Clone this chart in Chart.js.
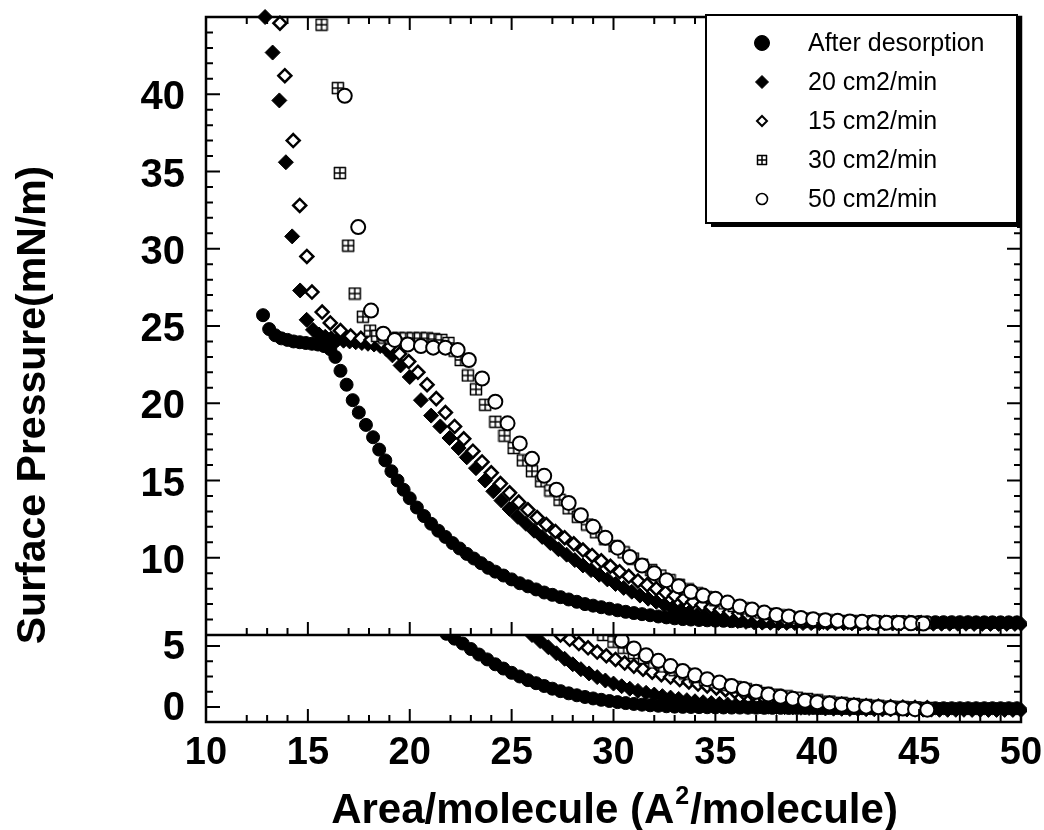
<!DOCTYPE html>
<html>
<head>
<meta charset="utf-8">
<script src="https://cdn.jsdelivr.net/npm/chart.js@4.4.1/dist/chart.umd.min.js"></script>
<style>
  html, body { margin: 0; padding: 0; background: #fff; }
  canvas { display: block; }
</style>
</head>
<body>
<canvas id="grafica" width="1044" height="830"></canvas>
<script>
const seriesNames = ['After desorption', '20 cm2/min', '15 cm2/min', '30 cm2/min', '50 cm2/min'];
const yTitle = 'Surface Pressure(mN/m)';
const xTitleParts = ['Area/molecule (A', '2', '/molecule)'];

const areaTicks = [10, 15, 20, 25, 30, 35, 40, 45, 50];
const areaMinorTicks = [12, 13, 14, 17, 18, 19, 22, 23, 24, 27, 28, 29, 32, 33, 34, 37, 38, 39, 42, 43, 44, 47, 48, 49];
const upperTicks = [10, 15, 20, 25, 30, 35, 40];
const upperMinorTicks = [6, 7, 8, 9, 11, 12, 13, 14, 16, 17, 18, 19, 21, 22, 23, 24, 26, 27, 28, 29, 31, 32, 33, 34, 36, 37, 38, 39, 41, 42, 43, 44];
const lowerTicks = [0, 5];
const lowerMinorTicks = [1.25, 2.5, 3.75];

// upper panel, [area, pressure]
const afterDesorptionUpper = [[12.8,25.7],[13.1,24.8],[13.4,24.4],[13.7,24.2],[14.0,24.1],[14.3,24.0],[14.6,23.95],[14.9,23.9],[15.2,23.85],[15.5,23.8],[15.8,23.7],[16.1,23.5],[16.35,23.0],[16.6,22.1],[16.9,21.2],[17.2,20.2],[17.5,19.4],[17.85,18.6],[18.2,17.8],[18.5,17.0],[18.8,16.3],[19.1,15.6],[19.4,15.0],[19.7,14.4],[20.0,13.85],[20.35,13.25],[20.7,12.7],[21.05,12.2],[21.4,11.75],[21.75,11.35],[22.1,10.95],[22.45,10.6],[22.8,10.25],[23.15,9.95],[23.5,9.65],[23.85,9.35],[24.2,9.1],[24.6,8.85],[25.0,8.6],[25.4,8.35],[25.8,8.15],[26.2,7.95],[26.6,7.75],[27.0,7.6],[27.4,7.45],[27.8,7.3],[28.2,7.15],[28.6,7.0],[29.0,6.9],[29.4,6.8],[29.8,6.7],[30.2,6.6],[30.6,6.5],[31.0,6.42],[31.4,6.35],[31.8,6.28],[32.2,6.2],[32.6,6.14],[33.0,6.08],[33.4,6.03],[33.8,6.0],[34.2,5.97],[34.6,5.95],[35.0,5.93],[35.4,5.92],[35.8,5.9],[36.2,5.9],[36.6,5.89],[37.0,5.89],[37.4,5.88],[37.8,5.88],[38.2,5.88],[38.6,5.87],[39.0,5.87],[39.4,5.87],[39.8,5.86],[40.2,5.86],[40.6,5.86],[41.0,5.86],[41.4,5.85],[41.8,5.85],[42.2,5.85],[42.6,5.85],[43.0,5.85],[43.4,5.84],[43.8,5.84],[44.2,5.84],[44.6,5.84],[45.0,5.84],[45.4,5.83],[45.8,5.83],[46.2,5.83],[46.6,5.83],[47.0,5.83],[47.4,5.83],[47.8,5.82],[48.2,5.82],[48.6,5.82],[49.0,5.82],[49.4,5.82],[49.8,5.82]];
const rate20Upper = [[12.9,45.0],[13.27,42.7],[13.6,39.6],[13.92,35.6],[14.23,30.8],[14.62,27.3],[14.94,25.4],[15.25,24.75],[15.55,24.45],[15.85,24.3],[16.15,24.2],[16.45,24.1],[16.75,24.05],[17.05,24.0],[17.35,23.95],[17.65,23.9],[17.95,23.85],[18.25,23.8],[18.55,23.7],[18.85,23.5],[19.15,23.1],[19.55,22.45],[20.0,21.7],[20.55,20.2],[21.05,19.2],[21.5,18.5],[21.95,17.75],[22.4,17.1],[22.8,16.5],[23.25,15.8],[23.7,15.0],[24.1,14.3],[24.5,13.7],[24.9,13.15],[25.3,12.65],[25.7,12.2],[26.1,11.75],[26.5,11.35],[26.9,10.95],[27.3,10.55],[27.7,10.2],[28.1,9.85],[28.5,9.5],[28.9,9.2],[29.3,8.9],[29.7,8.6],[30.1,8.3],[30.5,8.05],[30.9,7.8],[31.3,7.55],[31.7,7.35],[32.1,7.15],[32.5,6.95],[32.9,6.75],[33.3,6.6],[33.7,6.45],[34.1,6.3],[34.5,6.2],[34.9,6.1],[35.3,6.0],[35.7,5.95],[36.1,5.9],[36.5,5.85],[36.9,5.82],[37.3,5.8],[37.7,5.79],[38.1,5.78],[38.5,5.78],[38.9,5.77],[39.3,5.77],[39.7,5.77],[40.1,5.76],[40.5,5.76],[40.9,5.76],[41.3,5.76],[41.7,5.75],[42.1,5.75],[42.5,5.75],[42.9,5.75],[43.3,5.75],[43.7,5.74],[44.1,5.74],[44.5,5.74],[44.9,5.74],[45.3,5.74],[45.7,5.73],[46.1,5.73],[46.5,5.73],[46.9,5.73],[47.3,5.73],[47.7,5.72],[48.1,5.72],[48.5,5.72],[48.9,5.72],[49.3,5.72],[49.7,5.72],[50.0,5.72]];
const rate15Upper = [[13.63,44.6],[13.87,41.2],[14.28,37.0],[14.6,32.8],[14.95,29.5],[15.2,27.2],[15.7,25.9],[16.1,25.2],[16.6,24.7],[17.1,24.35],[17.6,24.2],[18.1,24.1],[18.6,23.95],[19.05,23.7],[19.5,23.2],[19.95,22.7],[20.4,22.0],[20.85,21.2],[21.3,20.3],[21.75,19.4],[22.2,18.5],[22.65,17.7],[23.1,16.9],[23.55,16.2],[24.0,15.5],[24.45,14.8],[24.9,14.2],[25.35,13.6],[25.8,13.1],[26.25,12.6],[26.7,12.15],[27.15,11.7],[27.6,11.3],[28.05,10.9],[28.5,10.5],[28.95,10.15],[29.4,9.8],[29.85,9.45],[30.3,9.1],[30.75,8.8],[31.2,8.5],[31.65,8.25],[32.1,8.0],[32.55,7.75],[33.0,7.55],[33.45,7.35],[33.9,7.15],[34.35,6.95],[34.8,6.8],[35.25,6.65],[35.7,6.5],[36.15,6.4],[36.6,6.3],[37.05,6.2],[37.5,6.12],[37.95,6.05],[38.4,6.0],[38.85,5.95],[39.3,5.9],[39.75,5.88],[40.3,5.86],[40.9,5.85],[41.5,5.84],[42.1,5.83],[42.7,5.82],[43.3,5.81],[43.9,5.8],[44.5,5.8],[45.1,5.79]];
const rate30Upper = [[15.67,44.5],[16.47,40.4],[16.57,34.9],[16.98,30.2],[17.3,27.1],[17.7,25.6],[18.05,24.7],[18.4,24.35],[18.75,24.25],[19.1,24.2],[19.45,24.2],[19.8,24.2],[20.15,24.2],[20.5,24.2],[20.85,24.2],[21.2,24.15],[21.55,24.1],[21.9,23.9],[22.2,23.4],[22.5,22.8],[22.85,21.8],[23.25,20.9],[23.7,19.9],[24.2,18.8],[24.65,17.9],[25.1,17.1],[25.55,16.3],[26.0,15.6],[26.45,14.95],[26.9,14.35],[27.35,13.75],[27.8,13.2],[28.25,12.65],[28.7,12.15],[29.15,11.65],[29.6,11.2],[30.05,10.75],[30.5,10.35],[30.95,9.95],[31.4,9.55],[31.85,9.2],[32.3,8.85],[32.75,8.55],[33.2,8.25],[33.65,7.95],[34.1,7.7],[34.55,7.45],[35.0,7.25],[35.45,7.05],[35.9,6.88],[36.35,6.72],[36.8,6.58],[37.25,6.46],[37.7,6.36],[38.15,6.27],[38.6,6.19],[39.05,6.12],[39.5,6.06],[39.95,6.0],[40.5,5.95],[41.1,5.9],[41.7,5.88],[42.3,5.86],[42.9,5.85],[43.5,5.84],[44.1,5.83],[44.7,5.82],[45.3,5.8]];
const rate50Upper = [[16.81,39.9],[17.47,31.4],[18.1,26.0],[18.7,24.5],[19.26,24.1],[19.9,23.8],[20.55,23.7],[21.15,23.6],[21.75,23.6],[22.35,23.45],[22.9,22.8],[23.55,21.6],[24.2,20.1],[24.8,18.7],[25.4,17.4],[26.0,16.4],[26.6,15.3],[27.2,14.4],[27.8,13.55],[28.4,12.75],[29.0,12.0],[29.6,11.3],[30.2,10.65],[30.8,10.05],[31.4,9.5],[32.0,9.0],[32.6,8.55],[33.2,8.15],[33.8,7.8],[34.4,7.55],[35.0,7.35],[35.6,7.1],[36.2,6.85],[36.8,6.65],[37.4,6.45],[38.0,6.3],[38.6,6.2],[39.2,6.1],[39.8,6.02],[40.4,5.96],[41.0,5.92],[41.6,5.88],[42.2,5.85],[42.8,5.82],[43.4,5.8],[44.0,5.78],[44.6,5.76],[45.2,5.74]];

// lower panel, [area, pressure]
const afterDesorptionLower = [[21.8,6.0],[22.2,5.6],[22.6,5.2],[23.0,4.75],[23.4,4.3],[23.8,3.9],[24.2,3.5],[24.6,3.15],[25.0,2.8],[25.4,2.5],[25.8,2.2],[26.2,1.95],[26.6,1.72],[27.0,1.5],[27.4,1.3],[27.8,1.12],[28.2,0.96],[28.6,0.82],[29.0,0.7],[29.4,0.59],[29.8,0.49],[30.2,0.4],[30.6,0.32],[31.0,0.25],[31.4,0.19],[31.8,0.14],[32.2,0.1],[32.6,0.06],[33.0,0.03],[33.4,0.01],[33.8,0.0],[34.2,-0.01],[34.6,-0.02],[35.0,-0.03],[35.4,-0.04],[35.8,-0.05],[36.2,-0.05],[36.6,-0.06],[37.0,-0.06],[37.4,-0.07],[37.8,-0.07],[38.2,-0.07],[38.6,-0.08],[39.0,-0.08],[39.4,-0.08],[39.8,-0.08],[40.2,-0.09],[40.6,-0.09],[41.0,-0.09],[41.4,-0.09],[41.8,-0.09],[42.2,-0.1],[42.6,-0.1],[43.0,-0.1],[43.4,-0.1],[43.8,-0.1],[44.2,-0.1],[44.6,-0.1],[45.0,-0.1],[45.4,-0.1],[45.8,-0.1],[46.2,-0.1],[46.6,-0.1],[47.0,-0.1],[47.4,-0.1],[47.8,-0.1],[48.2,-0.1],[48.6,-0.1],[49.0,-0.1],[49.4,-0.1],[49.8,-0.1]];
const rate20Lower = [[26.0,5.9],[26.4,5.4],[26.8,4.9],[27.2,4.4],[27.6,3.95],[28.0,3.5],[28.4,3.1],[28.8,2.75],[29.2,2.45],[29.6,2.17],[30.0,1.92],[30.4,1.7],[30.8,1.5],[31.2,1.32],[31.6,1.16],[32.0,1.02],[32.4,0.89],[32.8,0.77],[33.2,0.66],[33.6,0.56],[34.0,0.47],[34.4,0.39],[34.8,0.32],[35.2,0.26],[35.6,0.2],[36.0,0.15],[36.4,0.11],[36.8,0.07],[37.2,0.04],[37.6,0.02],[38.0,0.0],[38.4,-0.02],[38.8,-0.04],[39.2,-0.06],[39.6,-0.08],[40.0,-0.1],[40.4,-0.12],[40.8,-0.14],[41.2,-0.15],[41.6,-0.16],[42.0,-0.17],[42.4,-0.18],[42.8,-0.19],[43.2,-0.2],[43.6,-0.2],[44.0,-0.21],[44.4,-0.21],[44.8,-0.22],[45.2,-0.22],[45.6,-0.22],[46.0,-0.23],[46.4,-0.23],[46.8,-0.23],[47.2,-0.23],[47.6,-0.24],[48.0,-0.24],[48.4,-0.24],[48.8,-0.24],[49.2,-0.24],[49.6,-0.24],[50.0,-0.24]];
const rate15Lower = [[27.4,5.9],[27.85,5.55],[28.3,5.2],[28.75,4.85],[29.2,4.5],[29.65,4.2],[30.1,3.9],[30.55,3.6],[31.0,3.35],[31.45,3.1],[31.9,2.85],[32.35,2.65],[32.8,2.45],[33.25,2.25],[33.7,2.05],[34.15,1.88],[34.6,1.72],[35.05,1.56],[35.5,1.42],[35.95,1.28],[36.4,1.15],[36.85,1.03],[37.3,0.92],[37.75,0.82],[38.2,0.72],[38.65,0.63],[39.1,0.55],[39.55,0.47],[40.0,0.4],[40.6,0.31],[41.2,0.23],[41.8,0.16],[42.4,0.1],[43.0,0.05],[43.6,0.01],[44.2,-0.02],[44.8,-0.05],[45.4,-0.07]];
const rate30Lower = [[29.5,5.9],[30.0,5.35],[30.5,4.85],[31.0,4.42],[31.5,4.02],[32.0,3.65],[32.5,3.32],[33.0,3.02],[33.5,2.74],[34.0,2.48],[34.5,2.24],[35.0,2.02],[35.5,1.82],[36.0,1.63],[36.5,1.46],[37.0,1.3],[37.5,1.15],[38.0,1.01],[38.5,0.88],[39.0,0.76],[39.5,0.65],[40.0,0.55],[40.6,0.44],[41.2,0.34],[41.8,0.25],[42.4,0.17],[43.0,0.1],[43.6,0.04],[44.2,-0.01],[44.8,-0.05],[45.4,-0.08]];
const rate50Lower = [[30.4,5.45],[31.0,4.8],[31.6,4.25],[32.2,3.78],[32.8,3.35],[33.4,2.95],[34.0,2.6],[34.6,2.28],[35.2,2.0],[35.8,1.72],[36.4,1.47],[37.0,1.24],[37.6,1.03],[38.2,0.84],[38.8,0.67],[39.4,0.52],[40.0,0.39],[40.6,0.28],[41.2,0.18],[41.8,0.1],[42.4,0.03],[43.0,-0.03],[43.6,-0.08],[44.2,-0.13],[44.8,-0.18],[45.4,-0.22]];

const fontFamily = '"Liberation Sans", Arial, Helvetica, sans-serif';

// hatched square marker for the 30 cm2/min series
function makeHatchMark(size) {
  const c = document.createElement('canvas');
  c.width = size;
  c.height = size;
  const g = c.getContext('2d');
  g.fillStyle = '#fff';
  g.fillRect(1, 1, size - 2, size - 2);
  g.strokeStyle = '#000';
  g.lineWidth = 1.5;
  g.beginPath();
  g.moveTo(1, 1.5); g.lineTo(size - 1, 1.5);
  g.moveTo(1, size / 2); g.lineTo(size - 1, size / 2);
  g.moveTo(1, size - 1.5); g.lineTo(size - 1, size - 1.5);
  g.moveTo(1.5, 1); g.lineTo(1.5, size - 1);
  g.moveTo(size / 2, 1); g.lineTo(size / 2, size - 1);
  g.moveTo(size - 1.5, 1); g.lineTo(size - 1.5, size - 1);
  g.stroke();
  return c;
}

const hatchMark = makeHatchMark(14);
const hatchLegend = makeHatchMark(12);

const markers = [
  { style: 'circle', radius: 6.5, fill: '#000', width: 1 },
  { style: 'rectRot', radius: 7.5, fill: '#000', width: 1 },
  { style: 'rectRot', radius: 6.5, fill: '#fff', width: 2.5 },
  { style: hatchMark, radius: 7, fill: '#fff', width: 1 },
  { style: 'circle', radius: 7, fill: '#fff', width: 2 }
];
const legendMarkers = [
  { style: 'circle', radius: 7.5, fill: '#000', width: 1 },
  { style: 'rectRot', radius: 6.5, fill: '#000', width: 1 },
  { style: 'rectRot', radius: 5, fill: '#fff', width: 2 },
  { style: hatchLegend, radius: 6, fill: '#fff', width: 1 },
  { style: 'circle', radius: 5.5, fill: '#fff', width: 1.6 }
];

function makeDataset(i, points, axis) {
  const m = markers[i];
  return {
    label: seriesNames[i],
    data: points.map(p => ({ x: p[0], y: p[1] })),
    yAxisID: axis,
    showLine: false,
    pointStyle: m.style,
    pointRadius: m.radius,
    pointBackgroundColor: m.fill,
    pointBorderColor: '#000',
    pointBorderWidth: m.width,
    order: 5 - i,
    clip: false
  };
}

const datasets = [
  makeDataset(0, afterDesorptionUpper, 'yUp'),
  makeDataset(1, rate20Upper, 'yUp'),
  makeDataset(2, rate15Upper, 'yUp'),
  makeDataset(3, rate30Upper, 'yUp'),
  makeDataset(4, rate50Upper, 'yUp'),
  makeDataset(0, afterDesorptionLower, 'yLow'),
  makeDataset(1, rate20Lower, 'yLow'),
  makeDataset(2, rate15Lower, 'yLow'),
  makeDataset(3, rate30Lower, 'yLow'),
  makeDataset(4, rate50Lower, 'yLow')
];

// inside ticks, frame, titles and legend
const decor = {
  id: 'decor',
  beforeDatasetDraw(chart, args) {
    const { ctx, chartArea } = chart;
    const ys = chart.scales[args.meta.yAxisID];
    const top = ys.id === 'yUp' ? ys.top - 10 : ys.top;
    ctx.save();
    ctx.beginPath();
    ctx.rect(chartArea.left, top, chartArea.right - chartArea.left + 6, ys.bottom - top);
    ctx.clip();
  },
  afterDatasetDraw(chart) {
    chart.ctx.restore();
  },
  afterDraw(chart) {
    const ctx = chart.ctx;
    const xs = chart.scales.x, up = chart.scales.yUp, low = chart.scales.yLow;
    const L = xs.left, R = xs.right, T = up.top, M = up.bottom, B = low.bottom;
    ctx.save();
    ctx.strokeStyle = '#000';
    ctx.lineWidth = 2;
    ctx.beginPath();
    const xTick = (v, len) => {
      const x = xs.getPixelForValue(v);
      ctx.moveTo(x, T); ctx.lineTo(x, T + len);
      ctx.moveTo(x, M); ctx.lineTo(x, M - len);
      ctx.moveTo(x, B); ctx.lineTo(x, B - len);
    };
    areaTicks.slice(1, -1).forEach(v => xTick(v, 13));
    areaMinorTicks.forEach(v => xTick(v, 7));
    const yTick = (scale, v, len) => {
      const y = scale.getPixelForValue(v);
      ctx.moveTo(L, y); ctx.lineTo(L + len, y);
      ctx.moveTo(R, y); ctx.lineTo(R - len, y);
    };
    upperTicks.forEach(v => yTick(up, v, 14));
    upperMinorTicks.forEach(v => yTick(up, v, 7));
    lowerTicks.forEach(v => yTick(low, v, 14));
    lowerMinorTicks.forEach(v => yTick(low, v, 7));
    ctx.stroke();

    ctx.lineWidth = 2.5;
    ctx.strokeRect(L, T, R - L, B - T);
    ctx.beginPath();
    ctx.moveTo(L, M); ctx.lineTo(R, M);
    ctx.stroke();

    // axis titles
    ctx.fillStyle = '#000';
    ctx.font = 'bold 41px ' + fontFamily;
    ctx.textAlign = 'center';
    ctx.textBaseline = 'middle';
    ctx.save();
    ctx.translate(34, 405);
    ctx.rotate(-Math.PI / 2);
    ctx.fillText(yTitle, 0, 0);
    ctx.restore();

    const mainFont = 'bold 42px ' + fontFamily;
    const supFont = 'bold 25px ' + fontFamily;
    ctx.textAlign = 'left';
    ctx.textBaseline = 'alphabetic';
    ctx.font = mainFont;
    const w0 = ctx.measureText(xTitleParts[0]).width;
    const w2 = ctx.measureText(xTitleParts[2]).width;
    ctx.font = supFont;
    const w1 = ctx.measureText(xTitleParts[1]).width;
    let tx = (L + R) / 2 - (w0 + w1 + w2) / 2;
    const base = 823;
    ctx.font = mainFont;
    ctx.fillText(xTitleParts[0], tx, base);
    ctx.font = supFont;
    ctx.fillText(xTitleParts[1], tx + w0 + 1, base - 19);
    ctx.font = mainFont;
    ctx.fillText(xTitleParts[2], tx + w0 + w1 + 2, base);

    // legend box with shadow
    const bx = 706, by = 15, bw = 311, bh = 208;
    ctx.fillStyle = '#fff';
    ctx.fillRect(bx, by, bw, bh);
    ctx.lineWidth = 2;
    ctx.strokeRect(bx, by, bw, bh);
    ctx.fillStyle = '#000';
    ctx.fillRect(bx + bw, by + 3, 5, bh + 2);
    ctx.fillRect(bx + 5, by + bh, bw, 4);

    ctx.font = '25px ' + fontFamily;
    ctx.textBaseline = 'middle';
    ctx.textAlign = 'left';
    seriesNames.forEach((name, i) => {
      const y = 43 + i * 39;
      const m = legendMarkers[i];
      ctx.fillStyle = m.fill;
      ctx.strokeStyle = '#000';
      ctx.lineWidth = m.width;
      Chart.helpers.drawPoint(ctx, { pointStyle: m.style, radius: m.radius, rotation: 0, borderWidth: m.width }, 762, y);
      ctx.fillStyle = '#000';
      ctx.fillText(name, 808, y + 1);
    });
    ctx.restore();
  }
};

const xTickFont = { family: fontFamily, size: 38, weight: 'bold' };
const yTickFont = { family: fontFamily, size: 40, weight: 'bold' };

const chart = new Chart(document.getElementById('grafica').getContext('2d'), {
  type: 'scatter',
  data: { datasets: datasets },
  options: {
    responsive: false,
    devicePixelRatio: 1,
    animation: false,
    events: [],
    layout: { padding: { top: 17, right: 23, bottom: 0, left: 0 } },
    plugins: { legend: { display: false }, tooltip: { enabled: false } },
    scales: {
      x: {
        type: 'linear', min: 10, max: 50,
        grid: { display: false, drawTicks: false },
        border: { display: false },
        ticks: { font: xTickFont, color: '#000', padding: 9, maxRotation: 0, autoSkip: false },
        afterBuildTicks: s => { s.ticks = areaTicks.map(v => ({ value: v })); },
        afterFit: s => { s.height = 108; s.paddingLeft = 0; s.paddingRight = 0; }
      },
      yLow: {
        type: 'linear', position: 'left', stack: 'pressure', stackWeight: 87,
        min: -1.23, max: 5.9,
        grid: { display: false, drawTicks: false },
        border: { display: false },
        ticks: { font: yTickFont, color: '#000', padding: 21, labelOffset: 2, autoSkip: false },
        afterBuildTicks: s => { s.ticks = lowerTicks.map(v => ({ value: v })); },
        afterFit: s => { s.width = 206; s.paddingTop = 0; s.paddingBottom = 0; }
      },
      yUp: {
        type: 'linear', position: 'left', stack: 'pressure', stackWeight: 618,
        min: 5, max: 45,
        grid: { display: false, drawTicks: false },
        border: { display: false },
        ticks: { font: yTickFont, color: '#000', padding: 21, labelOffset: 4, autoSkip: false },
        afterBuildTicks: s => { s.ticks = upperTicks.map(v => ({ value: v })); },
        afterFit: s => { s.width = 206; s.paddingTop = 0; s.paddingBottom = 0; }
      }
    }
  },
  plugins: [decor]
});
</script>
</body>
</html>
